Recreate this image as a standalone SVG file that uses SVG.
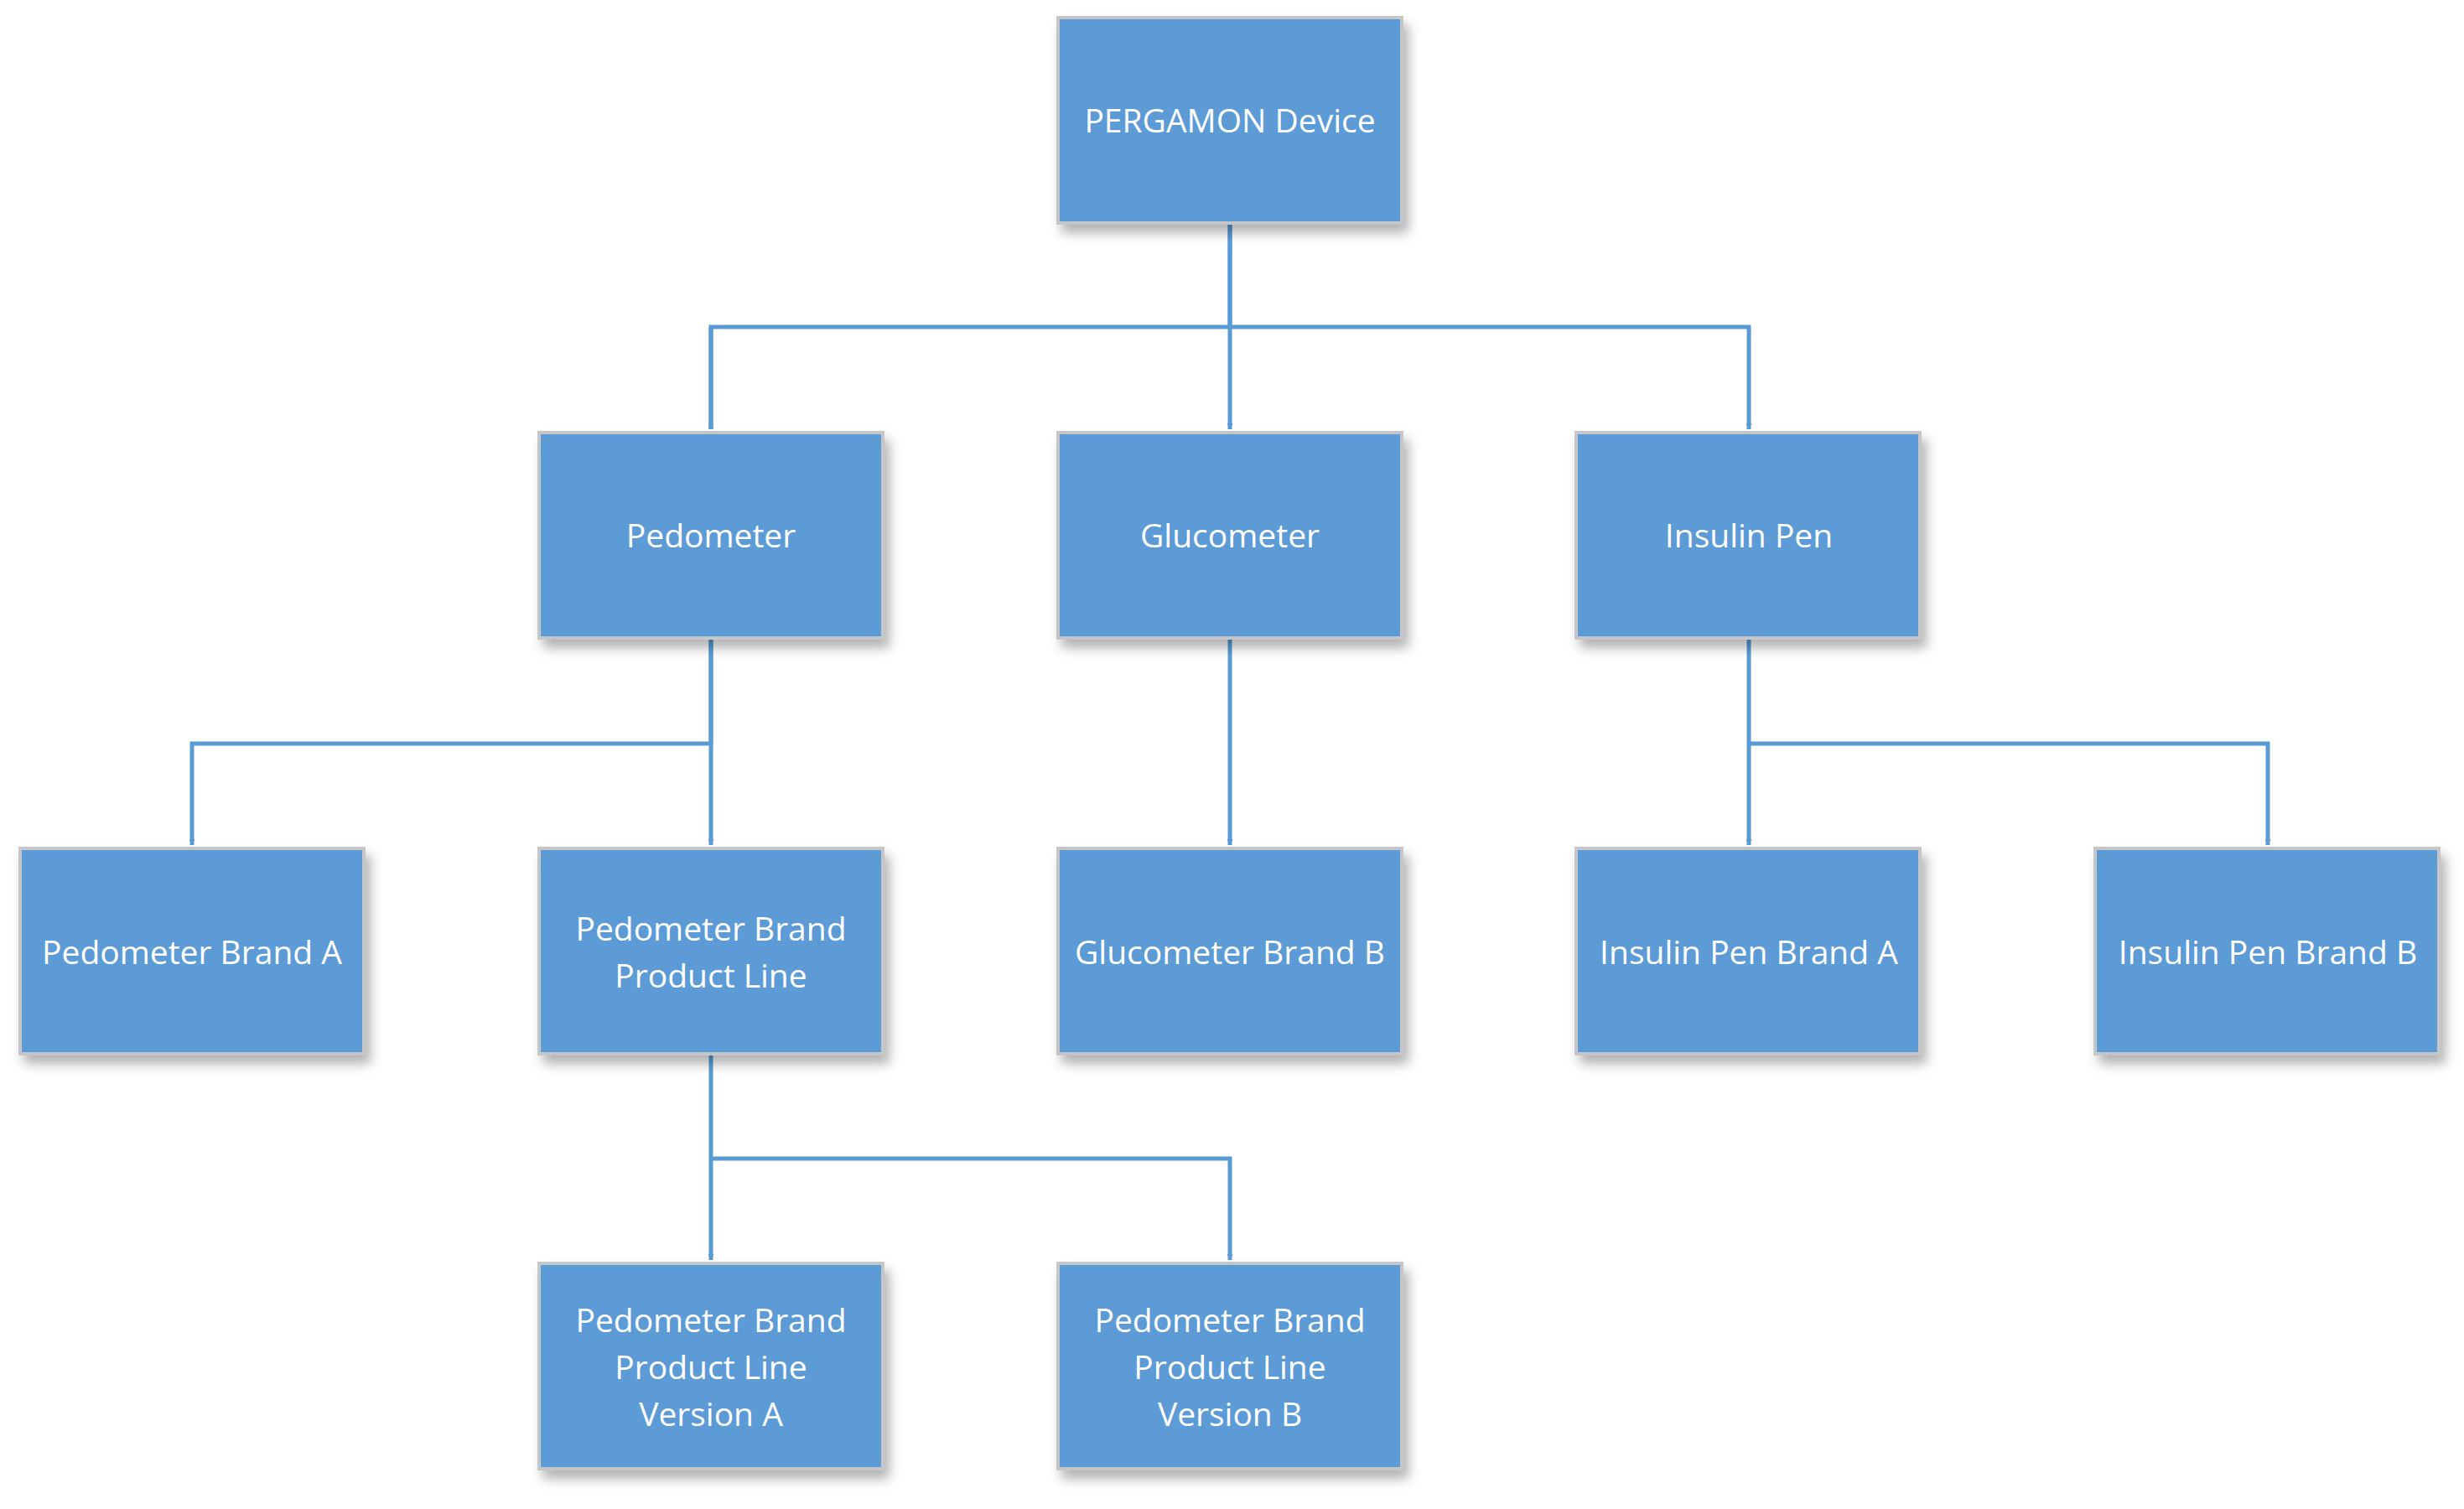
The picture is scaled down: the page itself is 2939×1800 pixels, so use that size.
<svg xmlns="http://www.w3.org/2000/svg" width="2939" height="1800" viewBox="0 0 2939 1800">
<style>
.n rect{fill:#5B9BD5;stroke:#C4C6C8;stroke-width:4;filter:url(#sh)}
.n text{fill:#fff;font-family:"Open Sans","Liberation Sans",sans-serif;font-size:39px;text-anchor:middle}
.c path{fill:none;stroke:#5B9BD5;stroke-width:5;marker-end:url(#a)}
</style>
<defs>
<filter id="sh" x="-10%" y="-10%" width="130%" height="130%"><feDropShadow dx="6" dy="10" stdDeviation="7" flood-color="#000" flood-opacity="0.3"/></filter>
<marker id="a" viewBox="0 0 10 10" refX="10" refY="5" markerWidth="7" markerHeight="7" markerUnits="userSpaceOnUse" orient="auto"><path d="M0,0L10,5L0,10z" fill="#5B9BD5" transform="scale(1)"/></marker>
</defs>
<rect width="2939" height="1800" fill="#fff"/>
<g class="c">
<path d="M1467,266V390H848V512" style="marker-end:none"/>
<path d="M848,390V512"/>
<path d="M1467,266V512"/>
<path d="M1467,390H2086V512"/>
<path d="M848,761V887H229V1008"/>
<path d="M848,761V1008"/>
<path d="M1467,761V1008"/>
<path d="M2086,761V1008"/>
<path d="M2086,887H2705V1008"/>
<path d="M848,1256V1503"/>
<path d="M848,1382H1467V1503"/>
</g>
<g id="n0" class="n"><rect x="1262" y="21" width="410" height="245"/><text x="1467" y="158">PERGAMON Device</text></g>
<g id="n1" class="n"><rect x="643" y="516" width="410" height="245"/><text x="848" y="653">Pedometer</text></g>
<g id="n2" class="n"><rect x="1262" y="516" width="410" height="245"/><text x="1467" y="653">Glucometer</text></g>
<g id="n3" class="n"><rect x="1880" y="516" width="410" height="245"/><text x="2086" y="653">Insulin Pen</text></g>
<g id="n4" class="n"><rect x="24" y="1012" width="410" height="245"/><text x="229" y="1150">Pedometer Brand A</text></g>
<g id="n5" class="n"><rect x="643" y="1012" width="410" height="245"/><text x="848" y="1122">Pedometer Brand</text><text x="848" y="1178">Product Line</text></g>
<g id="n6" class="n"><rect x="1262" y="1012" width="410" height="245"/><text x="1467" y="1150">Glucometer Brand B</text></g>
<g id="n7" class="n"><rect x="1880" y="1012" width="410" height="245"/><text x="2086" y="1150">Insulin Pen Brand A</text></g>
<g id="n8" class="n"><rect x="2499" y="1012" width="410" height="245"/><text x="2705" y="1150">Insulin Pen Brand B</text></g>
<g id="n9" class="n"><rect x="643" y="1507" width="410" height="245"/><text x="848" y="1589">Pedometer Brand</text><text x="848" y="1645">Product Line</text><text x="848" y="1701">Version A</text></g>
<g id="n10" class="n"><rect x="1262" y="1507" width="410" height="245"/><text x="1467" y="1589">Pedometer Brand</text><text x="1467" y="1645">Product Line</text><text x="1467" y="1701">Version B</text></g>
</svg>
